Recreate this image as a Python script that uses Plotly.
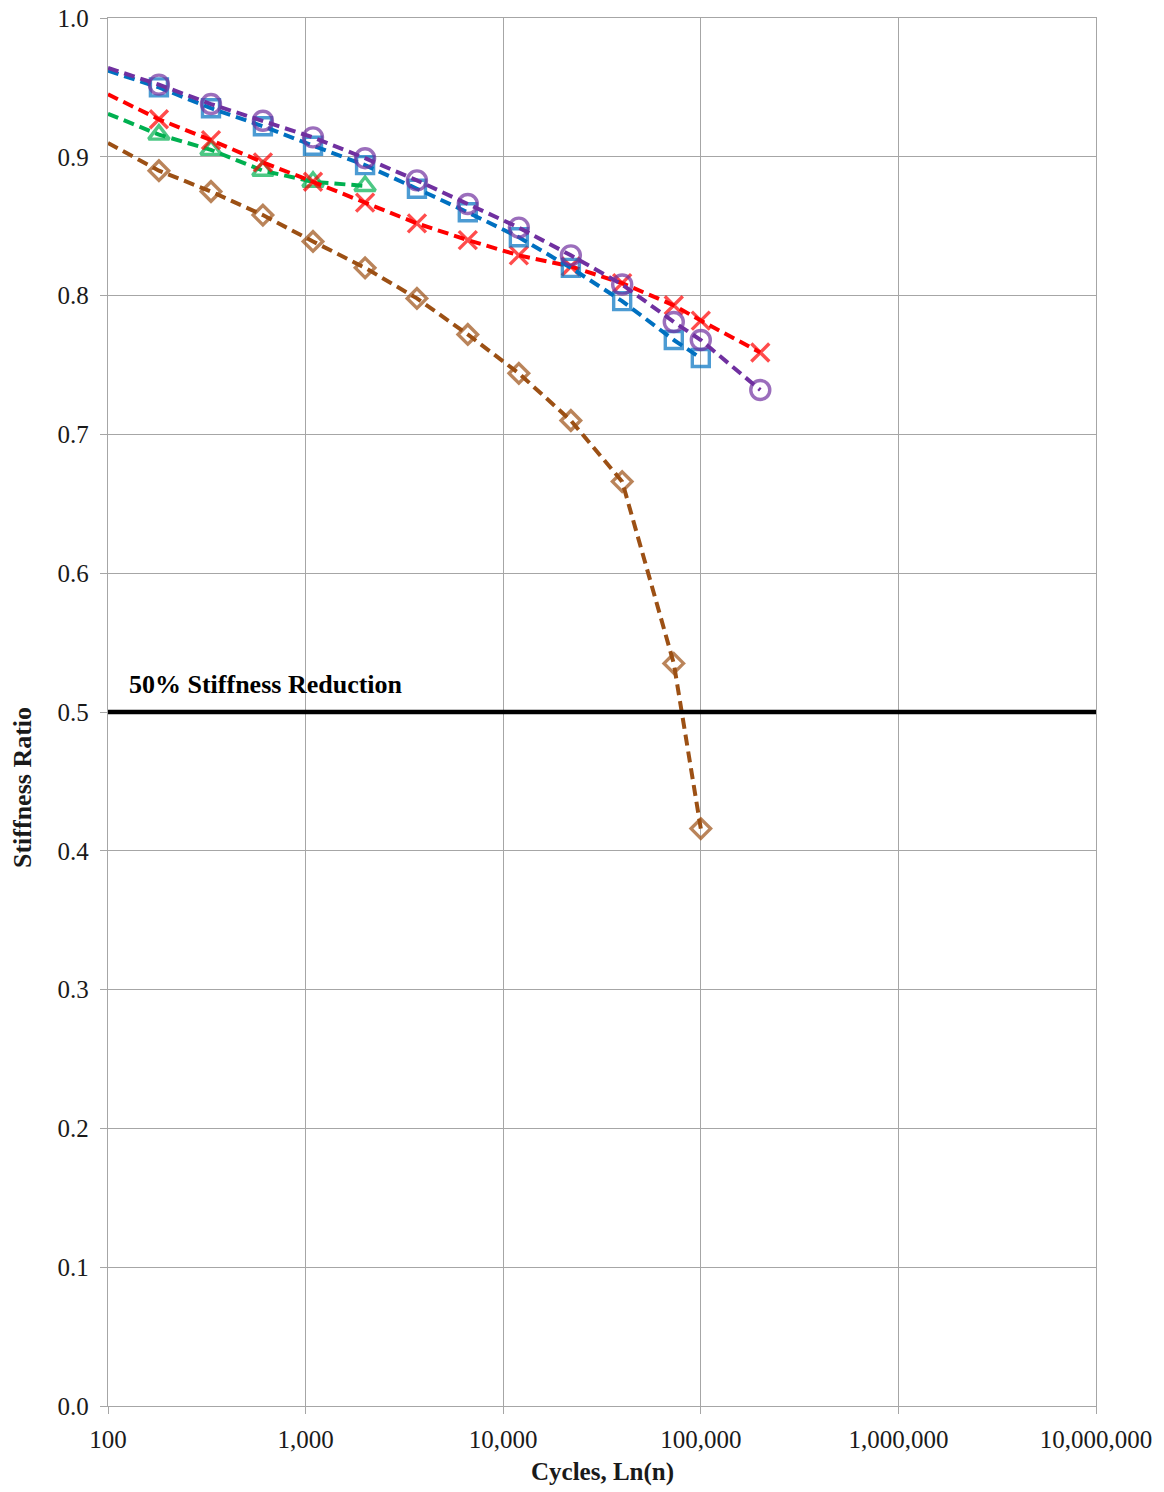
import plotly.graph_objects as go

# Load cycles (log scale) and measured stiffness ratio for each specimen
cycles = [100, 181, 332, 608, 1090, 2000, 3660, 6620, 12000, 22000, 40000, 73000, 100000, 200000]

purple_ratio = [0.964, 0.952, 0.938, 0.926, 0.914, 0.899, 0.883, 0.866, 0.849, 0.829, 0.808, 0.781, 0.768, 0.732]
blue_ratio = [0.962, 0.950, 0.935, 0.922, 0.908, 0.894, 0.877, 0.860, 0.842, 0.820, 0.796, 0.768, 0.755]
red_ratio = [0.945, 0.927, 0.912, 0.896, 0.882, 0.867, 0.852, 0.840, 0.829, 0.821, 0.809, 0.793, 0.782, 0.759]
green_ratio = [0.931, 0.916, 0.905, 0.890, 0.882, 0.879]
brown_ratio = [0.910, 0.890, 0.875, 0.858, 0.839, 0.820, 0.798, 0.772, 0.744, 0.710, 0.666, 0.535, 0.416]

threshold = 0.5
threshold_label = "50% Stiffness Reduction"

y_ticks = [0.0, 0.1, 0.2, 0.3, 0.4, 0.5, 0.6, 0.7, 0.8, 0.9, 1.0]
x_ticks = [100, 1000, 10000, 100000, 1000000, 10000000]

FONT = "Liberation Serif, Times New Roman, serif"
GRID = "#a6a6a6"
TEXT = "#1a1a1a"

W, H = 1164, 1492
M_L, M_R, M_T, M_B = 108, 68, 18, 86
plot_w = W - M_L - M_R
plot_h = H - M_T - M_B

series = [
    (brown_ratio, "#9c5014", "diamond-open", 15),
    (green_ratio, "#00b050", "triangle-up-open", 18),
    (red_ratio, "#ff0000", "x-thin-open", 18),
    (blue_ratio, "#0070c0", "square-open", 17),
    (purple_ratio, "#7030a0", "circle-open", 19),
]

fig = go.Figure()

for ratio, color, symbol, size in series:
    xs = cycles[:len(ratio)]
    # the curve starts at the axis minimum; markers only on measured points after it
    sizes = [0] + [size] * (len(ratio) - 1)
    fig.add_trace(go.Scatter(
        x=xs, y=ratio, mode="lines+markers",
        line=dict(color=color, width=4, dash="11px,6px"),
        marker=dict(symbol=symbol, size=sizes, color=color,
                    line=dict(color=color, width=3.4)),
        showlegend=False, cliponaxis=False,
    ))

# 50% stiffness reduction reference line
fig.add_trace(go.Scatter(
    x=[x_ticks[0], x_ticks[-1]], y=[threshold, threshold], mode="lines",
    line=dict(color="black", width=4.5), showlegend=False,
))

fig.add_annotation(
    x=0.0195, y=threshold + 0.008, xref="paper", yref="y",
    text="<b>" + threshold_label + "</b>", showarrow=False,
    xanchor="left", yanchor="bottom",
    font=dict(family=FONT, size=26, color="black"),
)

# axis titles placed as free text (pixel anchors converted to paper units)
fig.add_annotation(
    x=(22 - M_L) / plot_w, y=(H - M_B - 788) / plot_h,
    xref="paper", yref="paper", text="<b>Stiffness Ratio</b>",
    showarrow=False, textangle=-90, xanchor="center", yanchor="middle",
    font=dict(family=FONT, size=26, color=TEXT),
)
fig.add_annotation(
    x=0.5, y=-0.036, xref="paper", yref="paper", text="<b>Cycles, Ln(n)</b>",
    showarrow=False, xanchor="center", yanchor="top",
    font=dict(family=FONT, size=25, color=TEXT),
)

fig.update_layout(
    width=W, height=H,
    margin=dict(l=M_L, r=M_R, t=M_T, b=M_B, autoexpand=False),
    plot_bgcolor="white", paper_bgcolor="white",
    font=dict(family=FONT, size=25, color=TEXT),
)

fig.update_xaxes(
    type="log", range=[2, 7], automargin=False,
    tickvals=x_ticks, ticktext=[f"{v:,}" for v in x_ticks],
    showgrid=True, gridcolor=GRID, gridwidth=1.3,
    showline=True, linecolor=GRID, linewidth=1.3, mirror=True,
    ticks="outside", ticklen=7, tickcolor=GRID,
    zeroline=False, ticklabelstandoff=4,
    tickfont=dict(family=FONT, size=25, color=TEXT),
)

fig.update_yaxes(
    range=[0, 1], automargin=False,
    tickvals=y_ticks, ticktext=[f"{v:.1f}" for v in y_ticks],
    showgrid=True, gridcolor=GRID, gridwidth=1.3,
    showline=True, linecolor=GRID, linewidth=1.3, mirror=True,
    ticks="outside", ticklen=7, tickcolor=GRID,
    zeroline=False, ticklabelstandoff=6,
    tickfont=dict(family=FONT, size=25, color=TEXT),
)

fig.write_html("out.html")
